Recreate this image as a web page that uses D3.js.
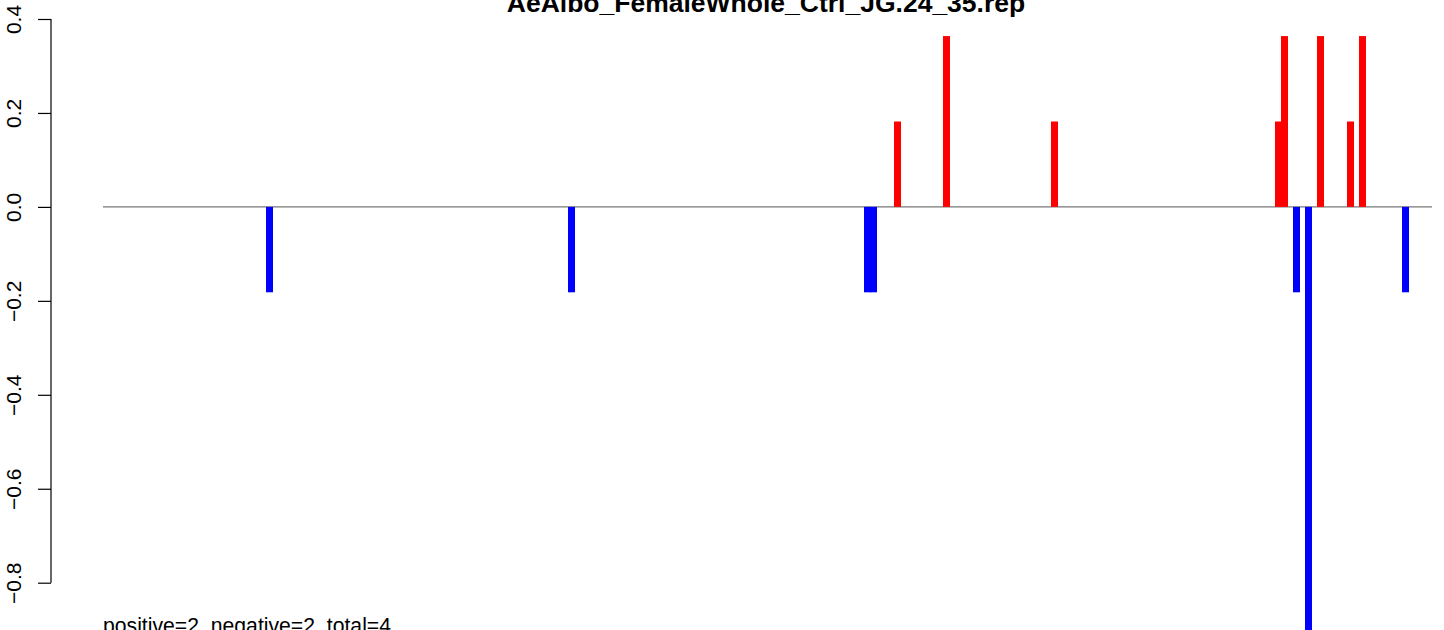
<!DOCTYPE html>
<html>
<head>
<meta charset="utf-8">
<script src="https://cdn.jsdelivr.net/npm/d3@7"></script>
<style>
  html, body { margin: 0; padding: 0; background: #fff; overflow: hidden; }
  svg { display: block; }
  text { font-family: "Liberation Sans", Arial, Helvetica, sans-serif; }
</style>
</head>
<body>
<script>
// ---- data ----
const title = "AeAlbo_FemaleWhole_Ctrl_JG.24_35.rep";
const summary = "positive=2, negative=2, total=4";
// bar positions (relative position along the track)
const positions = [166.5, 468.5, 764.5, 770.5, 794.5, 843.5, 951.5, 1175.5, 1181.5, 1193.5, 1205.5, 1217.5, 1247.5, 1259.5, 1302.5];
// bar values
const values = [-2/11, -2/11, -2/11, -2/11, 2/11, 4/11, 2/11, 2/11, 4/11, -2/11, -10/11, 4/11, 2/11, 4/11, -2/11];
const yTicks = [0.4, 0.2, 0.0, -0.2, -0.4, -0.6, -0.8];
const xDomain = [0, 1329];

// ---- drawing ----
const W = 1444, H = 630;
const svg = d3.select("body").append("svg").attr("width", W).attr("height", H);

const x = d3.scaleLinear().domain(xDomain).range([103, 1432]);
const y = d3.scaleLinear().domain([-0.8, 0.4]).range([582.7, 19]);

// zero line
svg.append("line")
  .attr("x1", x(xDomain[0])).attr("x2", x(xDomain[1]))
  .attr("y1", y(0)).attr("y2", y(0))
  .attr("stroke", "#777").attr("stroke-width", 1.2);

// bars
const data = positions.map((p, i) => ({ p, v: values[i] }));
const barW = 7;
svg.append("g").selectAll("rect").data(data).join("rect")
  .attr("x", d => x(d.p) - barW / 2)
  .attr("width", barW)
  .attr("y", d => Math.min(y(0), y(d.v)))
  .attr("height", d => Math.abs(y(d.v) - y(0)))
  .attr("fill", d => d.v >= 0 ? "#FF0000" : "#0000FF");

// y axis
const fmt = v => (v < 0 ? "\u2212" : "") + Math.abs(v).toFixed(1);
const axis = d3.axisLeft(y).tickValues(yTicks).tickSize(13).tickPadding(0).tickFormat(fmt);
const gAxis = svg.append("g").attr("transform", "translate(51,0)").call(axis);
gAxis.select(".domain").attr("stroke", "#000").attr("stroke-width", 1.2)
  .attr("d", `M0,${y(0.4)}V${y(-0.8)}`);
gAxis.selectAll(".tick line").attr("stroke", "#000").attr("stroke-width", 1.2);
gAxis.selectAll(".tick text")
  .attr("x", null).attr("dy", null)
  .attr("text-anchor", "middle")
  .attr("transform", "translate(-30.5,0) rotate(-90)")
  .attr("font-size", 21)
  .attr("fill", "#000")
  .style("font-family", '"Liberation Sans", Arial, Helvetica, sans-serif');

// title
svg.append("text")
  .attr("x", 766).attr("y", 12)
  .attr("text-anchor", "middle")
  .attr("font-size", 26.5).attr("font-weight", "bold")
  .text(title);

// summary text
svg.append("text")
  .attr("x", 103).attr("y", 633)
  .attr("font-size", 21.2)
  .text(summary);
</script>
</body>
</html>
